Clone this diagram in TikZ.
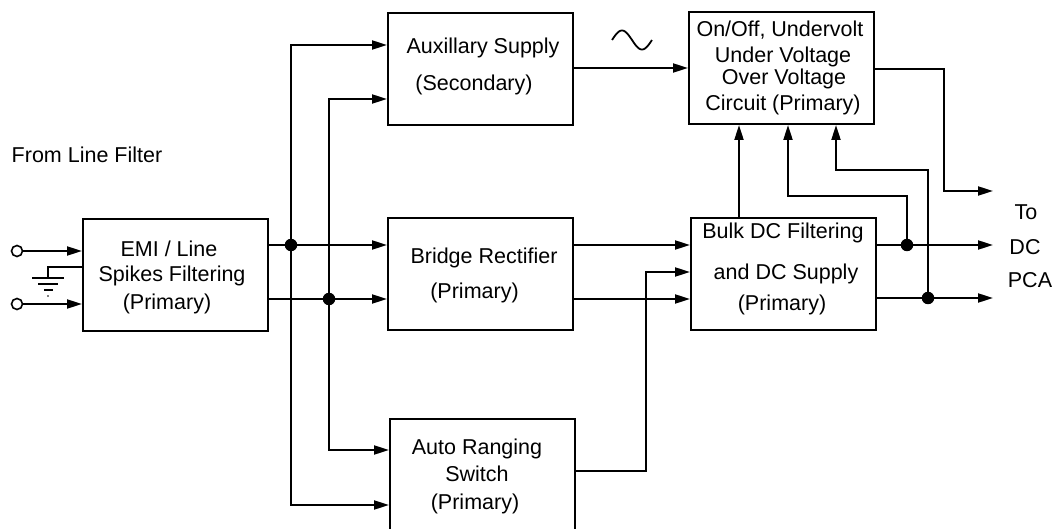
\documentclass[tikz,border=0pt]{standalone}
\usepackage{fontspec}
\setmainfont{Liberation Sans}
\usetikzlibrary{arrows.meta,calc}
\begin{document}
\begin{tikzpicture}[x=1pt,y=-1pt,
  line width=2pt,
  blk/.style={draw, line width=2pt, inner sep=0pt, minimum width=#1, minimum height=112pt},
  blk/.default=185pt,
  arr/.style={-{Triangle[length=15pt,width=9pt]}},
  dotj/.style={circle, fill=black, inner sep=0pt, minimum size=12.5pt},
  term/.style={circle, draw, fill=white, line width=1.6pt, inner sep=0pt, minimum size=11pt},
  txt/.style={anchor=base, inner sep=0pt, font=\fontsize{21.5}{26}\selectfont}
]
\useasboundingbox (0,0) rectangle (1055,529);
\clip (0,0) rectangle (1055,529);
\fill[white] (0,0) rectangle (1055,529);

% boxes
\node[blk] (emi)    at (175.5,275) {};
\node[blk] (aux)    at (480.5,69) {};
\node[blk] (bridge) at (480.5,274) {};
\node[blk, minimum height=150pt] (auto) at (482.5,494) {};
\node[blk] (onoff)  at (781.5,68) {};
\node[blk] (bulk)   at (783.5,274) {};

% texts
\node[txt] (tfrom) at (87,163) {From Line Filter};
\node[txt] (te1) at (169,257) {EMI / Line};
\node[txt] (te2) at (172,282) {Spikes Filtering};
\node[txt] (te3) at (167,310) {(Primary)};
\node[txt] (ta1) at (483,54) {Auxillary Supply};
\node[txt] (ta2) at (474,91) {(Secondary)};
\node[txt] (to1) at (780,37) {On/Off, Undervolt};
\node[txt] (to2) at (783,63) {Under Voltage};
\node[txt] (to3) at (784,85) {Over Voltage};
\node[txt] (to4) at (783,111) {Circuit (Primary)};
\node[txt] (tb1) at (484,264) {Bridge Rectifier};
\node[txt] (tb2) at (474.5,299) {(Primary)};
\node[txt] (tk1) at (783,239) {Bulk DC Filtering};
\node[txt] (tk2) at (786,280) {and DC Supply};
\node[txt] (tk3) at (782,311) {(Primary)};
\node[txt] (tr1) at (477,454) {Auto Ranging};
\node[txt] (tr2) at (477,481) {Switch};
\node[txt] (tr3) at (475,509) {(Primary)};
\node[txt] (tto) at (1026,220) {To};
\node[txt] (tdc) at (1025,255) {DC};
\node[txt] (tpca) at (1030,288) {PCA};

% input terminals and ground
\node[term] (in1) at (17,251) {};
\node[term] (in2) at (17,304) {};
\draw[arr] (in1) -- (emi.west |- in1);
\draw[arr] (in2) -- (emi.west |- in2);
\coordinate (g0) at (48,267);
\coordinate (g1) at (48,278);
\draw (emi.west |- g0) -- (g0) -- (g1);
\draw[line width=1.6pt] (32,278) -- (64,278);
\draw[line width=1.6pt] (38,284) -- (58,284);
\draw[line width=1.6pt] (44,290) -- (53,290);
\fill (48,296) circle (0.9pt);

% junctions left
\coordinate (j1) at (291,245);
\coordinate (j2) at (329,299);
\coordinate (b1t) at (291,45);
\coordinate (b1b) at (291,505);
\coordinate (b2t) at (329,99);
\coordinate (b2b) at (329,450);
\draw (emi.east |- j1) -- (j1);
\draw (emi.east |- j2) -- (j2);
\draw[arr] (j1) -- (bridge.west |- j1);
\draw[arr] (j2) -- (bridge.west |- j2);
\draw[arr] (j1) |- (aux.west |- b1t);
\draw[arr] (j1) |- (auto.west |- b1b);
\draw[arr] (j2) |- (aux.west |- b2t);
\draw[arr] (j2) |- (auto.west |- b2b);
\node[dotj] (dj1) at (j1) {};
\node[dotj] (dj2) at (j2) {};

% aux to on/off with sine symbol
\draw[arr] (aux.east |- onoff.west) -- (onoff.west);
\draw[line width=1.8pt, domain=0:1, samples=60, smooth]
  plot ({612+40*\x}, {40-9.5*sin(360*\x)});

% bridge to bulk
\draw[arr] (bridge.east |- j1) -- (bulk.west |- j1);
\draw[arr] (bridge.east |- j2) -- (bulk.west |- j2);

% auto ranging to bulk
\coordinate (r0) at (646,471);
\coordinate (r1) at (646,272);
\draw[arr] (auto.east |- r0) -- (r0) -- (r1) -- (bulk.west |- r1);

% bulk to on/off
\coordinate (m) at (739,170);
\draw[arr] (bulk.north -| m) -- (onoff.south -| m);

% outputs
\coordinate (t1) at (993,191);
\coordinate (t2) at (993,245);
\coordinate (t3) at (993,298);
\coordinate (o1) at (944,191);
\draw[arr] (onoff.east |- aux.east) -| (o1) -- (t1);
\draw[arr] (bulk.east |- t2) -- (t2);
\draw[arr] (bulk.east |- t3) -- (t3);

\coordinate (d1) at (907,245);
\coordinate (d2) at (928,298);
\coordinate (k1) at (788,196);
\coordinate (k2) at (836,170);
\draw[arr] (d1) |- (k1) -- (onoff.south -| k1);
\draw[arr] (d2) |- (k2) -- (onoff.south -| k2);
\node[dotj] (dd1) at (d1) {};
\node[dotj] (dd2) at (d2) {};
\end{tikzpicture}
\end{document}
